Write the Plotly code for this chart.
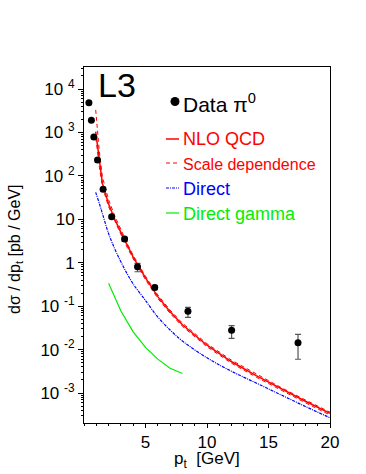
import plotly.graph_objects as go

# L3 pi0 data
pt_data = [0.4, 0.6, 0.8, 1.1, 1.55, 2.25, 3.3, 4.35, 5.75, 8.45, 12.0, 17.4]
xs_data = [4840, 1900, 785, 232, 49, 11.5, 3.5, 0.81, 0.27, 0.076, 0.0278, 0.0144]
err_up = [0, 0, 0, 0, 0, 0.8, 0.4, 0.16, 0.03, 0.018, 0.0077, 0.0081]
err_dn = [0, 0, 0, 0, 0, 0.8, 0.4, 0.19, 0.03, 0.021, 0.0096, 0.0084]

# NLO QCD with scale band, and the direct part
pt_nlo = [0.95, 1.0, 1.25, 1.5, 2.0, 2.5, 3.0, 3.5, 4.0, 5.0, 6.0, 7.0, 8.0, 10, 12, 14, 16, 18, 20]
nlo = [1047, 832, 200, 66.1, 22.4, 10.0, 5.01, 2.51, 1.35, 0.447, 0.166, 0.0741, 0.0372,
       0.0126, 0.00525, 0.00251, 0.00126, 0.000646, 0.000339]
nlo_hi = [3311, 2188, 355, 93.3, 28.2, 12.0, 5.75, 2.82, 1.48, 0.490, 0.182, 0.0813, 0.0407,
          0.01365, 0.00569, 0.00272, 0.00135, 0.000692, 0.000363]
nlo_lo = [741, 617, 158, 55.0, 19.5, 8.91, 4.47, 2.29, 1.23, 0.407, 0.151, 0.0684, 0.0343,
          0.0116, 0.00484, 0.00232, 0.00116, 0.000596, 0.000313]
direct = [41.7, 38.0, 22.9, 13.5, 4.68, 2.09, 1.05, 0.562, 0.324, 0.135, 0.0562, 0.0282,
          0.0158, 0.00646, 0.00316, 0.00170, 0.000912, 0.000490, 0.000269]

# direct gamma
pt_gam = [2, 3, 4, 5, 6, 7, 8]
gamma = [0.339, 0.0776, 0.0257, 0.0112, 0.00603, 0.00372, 0.00282]

exps = [-3, -2, -1, 0, 1, 2, 3, 4]
ylabels = ["10 <sup>-3</sup>", "10 <sup>-2</sup>", "10 <sup>-1</sup>", "1", "10",
           "10 <sup>2</sup>", "10 <sup>3</sup>", "10 <sup>4</sup>"]

FONT = "Liberation Sans, Arial, sans-serif"
GREEN = "#00ee00"
L, R, T, B = 84, 330, 67, 423


def px(x):
    return (x - L) / (R - L)


def py(y):
    return (B - y) / (B - T)


fig = go.Figure()

fig.add_trace(go.Scatter(x=pt_nlo, y=nlo_hi, mode="lines",
                         line=dict(color="red", width=1, dash="4px,3px")))
fig.add_trace(go.Scatter(x=pt_nlo, y=nlo_lo, mode="lines",
                         line=dict(color="red", width=1, dash="4px,3px")))
fig.add_trace(go.Scatter(x=pt_nlo, y=nlo, mode="lines",
                         line=dict(color="red", width=1.5)))
fig.add_trace(go.Scatter(x=pt_nlo, y=direct, mode="lines", line_shape="spline",
                         line=dict(color="blue", width=1.2, dash="3px,1px,1px,1px")))
fig.add_trace(go.Scatter(x=pt_gam, y=gamma, mode="lines",
                         line=dict(color=GREEN, width=1.2)))
fig.add_trace(go.Scatter(x=pt_data, y=xs_data, mode="markers",
                         marker=dict(color="black", size=7),
                         error_y=dict(type="data", array=err_up, arrayminus=err_dn,
                                      color="#555555", thickness=1.2, width=3)))

# legend text and axis titles
anns = [
    dict(x=px(96), y=py(85), text="L3", font=dict(size=34)),
    dict(x=px(181), y=py(103), text="Data π<sup>0</sup>", font=dict(size=21)),
    dict(x=px(181), y=py(139), text="NLO QCD", font=dict(size=18, color="red")),
    dict(x=px(181), y=py(164), text="Scale dependence", font=dict(size=16, color="red")),
    dict(x=px(181), y=py(189), text="Direct", font=dict(size=18, color="blue")),
    dict(x=px(181), y=py(214), text="Direct gamma", font=dict(size=18, color=GREEN)),
]
for a in anns:
    a.update(xanchor="left", yanchor="middle")
anns += [
    dict(x=px(207), y=py(460), text="p<sub>t</sub>  [GeV]", font=dict(size=17),
         xanchor="center", yanchor="middle"),
    dict(x=px(15), y=py(249), text="dσ / dp<sub>t</sub> [pb / GeV]", font=dict(size=16),
         textangle=-90, xanchor="center", yanchor="middle"),
]
for a in anns:
    a.update(xref="paper", yref="paper", showarrow=False)
    a["font"]["family"] = FONT
    a["font"].setdefault("color", "black")

shapes = [
    dict(type="circle", x0=px(170.5), x1=px(179.5), y0=py(97), y1=py(106),
         fillcolor="black", line=dict(width=0)),
    dict(type="line", x0=px(166), x1=px(179), y0=py(139), y1=py(139),
         line=dict(color="red", width=1.5)),
    dict(type="line", x0=px(166), x1=px(179), y0=py(163), y1=py(163),
         line=dict(color="red", width=1, dash="4px,3px")),
    dict(type="line", x0=px(166), x1=px(179), y0=py(188), y1=py(188),
         line=dict(color="blue", width=1.2, dash="3px,1px,1px,1px")),
    dict(type="line", x0=px(166), x1=px(179), y0=py(213), y1=py(213),
         line=dict(color=GREEN, width=1.2)),
]
for s in shapes:
    s.update(xref="paper", yref="paper")

minor_y = [k * 10 ** e for e in range(-4, 5) for k in range(2, 10)]

fig.update_layout(
    template="none",
    width=366, height=474,
    margin=dict(l=L, r=366 - R, t=T, b=474 - B, autoexpand=False),
    paper_bgcolor="white", plot_bgcolor="white",
    showlegend=False,
    font=dict(family=FONT, size=17, color="black"),
    annotations=anns, shapes=shapes,
)
fig.update_xaxes(
    range=[0, 20], showgrid=False, zeroline=False, automargin=False,
    showline=True, linecolor="black", linewidth=1, mirror=True,
    ticks="outside", ticklen=4, tickcolor="black",
    tickvals=[5, 10, 15, 20],
    minor=dict(ticks="outside", ticklen=2, tickcolor="black", dtick=1, showgrid=False),
    tickfont=dict(size=17),
)
fig.update_yaxes(
    type="log", range=[-3.69, 4.507], showgrid=False, zeroline=False, automargin=False,
    showline=True, linecolor="black", linewidth=1, mirror=True,
    ticks="outside", ticklen=5, tickcolor="black",
    tickvals=[10 ** e for e in exps], ticktext=ylabels,
    minor=dict(ticks="outside", ticklen=2, tickcolor="black", tickvals=minor_y, showgrid=False),
    tickfont=dict(size=17),
)

# page body has a default 8px margin; drop it so the figure sits at the corner
fig.write_html("out.html", config={"displayModeBar": False},
               post_script="document.body.style.margin = '0';")
